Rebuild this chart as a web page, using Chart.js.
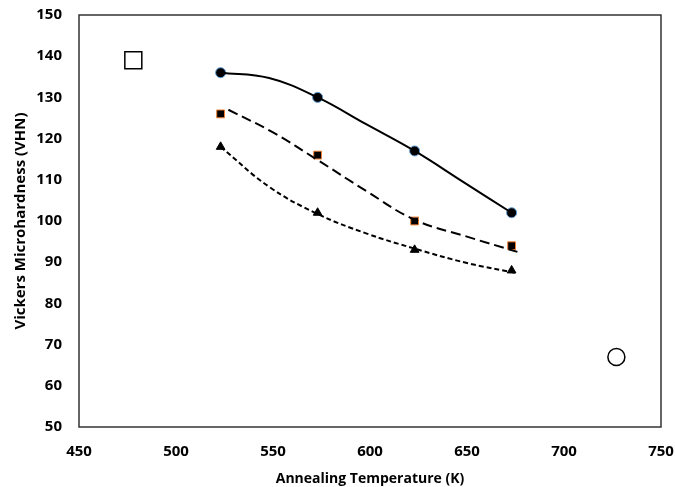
<!DOCTYPE html>
<html>
<head>
<meta charset="utf-8">
<script src="https://cdn.jsdelivr.net/npm/chart.js@4/dist/chart.umd.min.js"></script>
<style>
  html, body { margin: 0; padding: 0; background: #fff; }
  #wrap { width: 675px; height: 487px; }
</style>
</head>
<body>
<div id="wrap"><canvas id="myChart"></canvas></div>
<script>
const temps = [523, 573, 623, 673];
const hardnessCircle = [136, 130, 117, 102];
const hardnessSquare = [126, 116, 100, 94];
const hardnessTriangle = [118, 102, 93, 88];

// fitted trend curves
const trendCircleX = [523, 548, 573, 598, 623, 648, 673];
const trendCircleY = [136, 134.7, 130, 123.5, 117, 109.5, 102];
const trendSquareX = [527, 550, 573, 598, 623, 650, 676];
const trendSquareY = [127, 121.5, 114.8, 107.3, 100.3, 96.2, 92.5];
const trendTriangleX = [523, 548, 573, 598, 623, 650, 676];
const trendTriangleY = [118, 108.3, 101.7, 97, 93.3, 89.8, 87.3];

// leftover legend symbols in the plot
const legendSquare = [{ x: 478, y: 139 }];
const legendCircle = [{ x: 727, y: 67 }];

const xTicks = [450, 500, 550, 600, 650, 700, 750];
const yTicks = [50, 60, 70, 80, 90, 100, 110, 120, 130, 140, 150];

const FONT = "'Open Sans', 'Liberation Sans', sans-serif";

function toPoints(xs, ys) {
    return xs.map((x, i) => ({ x: x, y: ys[i] }));
}

function trend(xs, ys, dash) {
    return {
        data: toPoints(xs, ys),
        showLine: true,
        borderColor: '#000',
        borderWidth: 2,
        borderDash: dash,
        tension: 0.4,
        pointRadius: 0
    };
}

const frame = {
    id: 'frame',
    afterDatasetsDraw(chart) {
        const a = chart.chartArea;
        const ctx = chart.ctx;
        ctx.save();
        ctx.strokeStyle = '#333';
        ctx.lineWidth = 1.5;
        ctx.strokeRect(a.left, a.top, a.right - a.left, a.bottom - a.top);
        ctx.restore();
    }
};

new Chart("myChart", {
    type: 'scatter',
    data: {
        datasets: [
            trend(trendCircleX, trendCircleY, []),
            trend(trendSquareX, trendSquareY, [10, 5]),
            trend(trendTriangleX, trendTriangleY, [5, 3]),
        {
            data: toPoints(temps, hardnessCircle),
            pointStyle: 'circle',
            pointRadius: 5,
            pointBackgroundColor: '#000',
            pointBorderColor: '#5B9BD5',
            pointBorderWidth: 1
        }, {
            data: toPoints(temps, hardnessSquare),
            pointStyle: 'rect',
            pointRadius: 5.5,
            pointBackgroundColor: '#000',
            pointBorderColor: '#ED7D31',
            pointBorderWidth: 1
        }, {
            data: toPoints(temps, hardnessTriangle),
            pointStyle: 'triangle',
            pointRadius: 5,
            pointBackgroundColor: '#000',
            pointBorderColor: '#000',
            pointBorderWidth: 1
        }, {
            data: legendSquare,
            pointStyle: 'rect',
            pointRadius: 12,
            pointBackgroundColor: 'rgba(0,0,0,0)',
            pointBorderColor: '#000',
            pointBorderWidth: 1.5
        }, {
            data: legendCircle,
            pointStyle: 'circle',
            pointRadius: 8.5,
            pointBackgroundColor: 'rgba(0,0,0,0)',
            pointBorderColor: '#000',
            pointBorderWidth: 1.5
        }]
    },
    options: {
        responsive: true,
        maintainAspectRatio: false,
        animation: false,
        layout: { padding: { top: 15, right: 14, left: 0, bottom: 0 } },
        plugins: { legend: { display: false }, tooltip: { enabled: false } },
        scales: {
            x: {
                type: 'linear',
                min: 450,
                max: 750,
                afterBuildTicks: (scale) => { scale.ticks = xTicks.map(v => ({ value: v })); },
                grid: { display: false, drawTicks: false },
                border: { display: false },
                ticks: { color: '#000', padding: 16, font: { family: FONT, size: 15, weight: 'bold' } },
                title: { display: true, text: 'Annealing Temperature (K)', color: '#000', padding: { top: 4, bottom: 0 }, font: { family: FONT, size: 14, weight: 'bold' } },
                afterFit: (scale) => {
                    scale.height = 60;
                    scale.paddingLeft = 0;
                    scale.paddingRight = 0;
                }
            },
            y: {
                type: 'linear',
                min: 50,
                max: 150,
                afterBuildTicks: (scale) => { scale.ticks = yTicks.map(v => ({ value: v })); },
                grid: { display: false, drawTicks: false },
                border: { display: false },
                ticks: { color: '#000', padding: 17, font: { family: FONT, size: 15, weight: 'bold' } },
                title: { display: true, text: 'Vickers Microhardness (VHN)', color: '#000', padding: { top: 12, bottom: 4 }, font: { family: FONT, size: 15, weight: 'bold' } },
                afterFit: (scale) => {
                    scale.width = 79;
                    scale.paddingTop = 0;
                    scale.paddingBottom = 0;
                }
            }
        }
    },
    plugins: [frame]
});
</script>
</body>
</html>
